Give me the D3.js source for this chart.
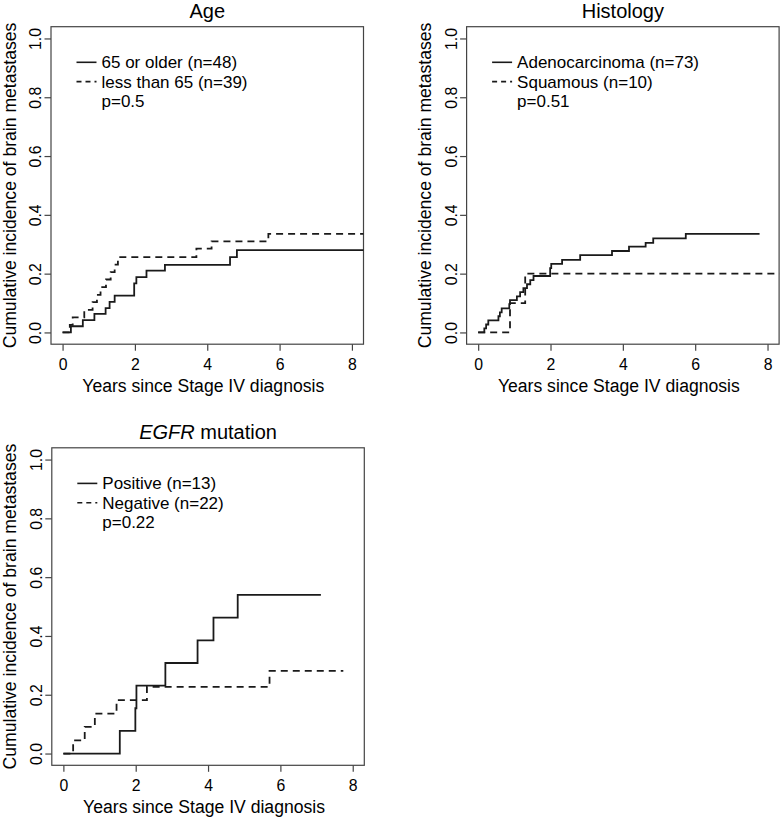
<!DOCTYPE html>
<html><head><meta charset="utf-8">
<script src="https://cdn.jsdelivr.net/npm/d3@7"></script>
<style>
body{margin:0;background:#fff}
svg{display:block}
text{font-family:"Liberation Sans",Arial,Helvetica,sans-serif;fill:#000}
</style>
</head><body><div id="chart"></div>
<script>
// ---------------- data ----------------
const xTicks = [0, 2, 4, 6, 8];
const yTicks = [0, 0.2, 0.4, 0.6, 0.8, 1.0];
const xLabel = "Years since Stage IV diagnosis";
const yLabel = "Cumulative incidence of brain metastases";

// Panel 1: Age
const ageTitle = "Age";
const ageLegend = ["65 or older (n=48)", "less than 65 (n=39)"];
const agePValue = "p=0.5";
const ageOlderTimes  = [0.23, 0.56, 0.88, 1.19, 1.30, 1.44, 1.98, 2.04, 2.32, 2.83, 4.63, 4.82];
const ageOlderValues = [0.021, 0.042, 0.063, 0.083, 0.104, 0.125, 0.167, 0.188, 0.210, 0.230, 0.256, 0.280];
const ageOlderEnd = 9;
const ageYoungerTimes  = [0.20, 0.28, 0.60, 0.83, 0.95, 1.05, 1.20, 1.33, 1.44, 1.53, 3.70, 4.12, 5.69];
const ageYoungerValues = [0.026, 0.051, 0.077, 0.103, 0.128, 0.154, 0.180, 0.205, 0.231, 0.256, 0.285, 0.310, 0.335];
const ageYoungerEnd = 9;

// Panel 2: Histology
const histTitle = "Histology";
const histLegend = ["Adenocarcinoma (n=73)", "Squamous (n=10)"];
const histPValue = "p=0.51";
const adenoTimes  = [0.17, 0.22, 0.28, 0.56, 0.60, 0.65, 0.86, 0.88, 1.07, 1.16, 1.25, 1.35, 1.44, 1.53, 1.99, 2.02, 2.32, 2.82, 3.70, 4.17, 4.63, 4.84, 5.74];
const adenoValues = [0.014, 0.027, 0.041, 0.055, 0.068, 0.082, 0.096, 0.110, 0.123, 0.137, 0.151, 0.164, 0.178, 0.192, 0.219, 0.233, 0.247, 0.263, 0.277, 0.292, 0.305, 0.320, 0.335];
const adenoEnd = 7.78;
const squamousTimes  = [0.88, 1.30];
const squamousValues = [0.10, 0.20];
const squamousEnd = 9;

// Panel 3: EGFR mutation
const egfrTitleItalic = "EGFR";
const egfrTitleRest = " mutation";
const egfrLegend = ["Positive (n=13)", "Negative (n=22)"];
const egfrPValue = "p=0.22";
const egfrPosTimes  = [1.56, 1.99, 2.02, 2.82, 3.71, 4.15, 4.82];
const egfrPosValues = [0.077, 0.154, 0.231, 0.308, 0.385, 0.462, 0.540];
const egfrPosEnd = 7.12;
const egfrNegTimes  = [0.27, 0.59, 0.87, 1.47, 2.31, 5.70];
const egfrNegValues = [0.045, 0.091, 0.136, 0.182, 0.227, 0.281];
const egfrNegEnd = 7.74;

// ---------------- layout ----------------
const W = 783, H = 822;
const boxW = 312.5, boxH = 317.5;
const xDomain = [-0.32, 8.32], yDomain = [-0.04, 1.04];
const fontTick = 15.8, fontLab = 17.6, fontLegend = 17, fontTitle = 20;
const ink = "#1a1a1a", frame = "#444";

function steps(times, values, end) {
  const pts = [[0, 0]];
  times.forEach((t, i) => pts.push([t, values[i]]));
  pts.push([end, values[values.length - 1]]);
  return pts;
}

const panels = [
  { left: 51, top: 26.7, title: [{t: ageTitle}], legend: ageLegend, p: agePValue,
    solid: steps(ageOlderTimes, ageOlderValues, ageOlderEnd),
    dashed: steps(ageYoungerTimes, ageYoungerValues, ageYoungerEnd) },
  { left: 466.6, top: 26.7, title: [{t: histTitle}], legend: histLegend, p: histPValue,
    solid: steps(adenoTimes, adenoValues, adenoEnd),
    dashed: steps(squamousTimes, squamousValues, squamousEnd) },
  { left: 51.8, top: 447.8, title: [{t: egfrTitleItalic, it: true}, {t: egfrTitleRest}], legend: egfrLegend, p: egfrPValue,
    solid: steps(egfrPosTimes, egfrPosValues, egfrPosEnd),
    dashed: steps(egfrNegTimes, egfrNegValues, egfrNegEnd) }
];

const svg = d3.select("#chart").append("svg").attr("width", W).attr("height", H);
svg.append("rect").attr("width", W).attr("height", H).attr("fill", "#fff");

panels.forEach((p, idx) => {
  const x = d3.scaleLinear().domain(xDomain).range([p.left, p.left + boxW]);
  const y = d3.scaleLinear().domain(yDomain).range([p.top + boxH, p.top]);
  const g = svg.append("g");
  const cx = p.left + boxW / 2, cy = p.top + boxH / 2;

  const clipId = "clip" + idx;
  svg.append("clipPath").attr("id", clipId).append("rect")
    .attr("x", p.left).attr("y", p.top).attr("width", boxW).attr("height", boxH);

  // axes
  const xa = g.append("g").attr("transform", `translate(0,${p.top + boxH})`)
    .call(d3.axisBottom(x).tickValues(xTicks).tickFormat(d3.format("d")).tickSize(6.5).tickPadding(8.3));
  xa.select(".domain").remove();
  xa.selectAll("line").attr("stroke", frame).attr("stroke-width", 1.2);
  xa.selectAll("text").attr("font-size", fontTick).attr("fill", "#000")
    .style("font-family", '"Liberation Sans",Arial,sans-serif');

  const ya = g.append("g").attr("transform", `translate(${p.left},0)`)
    .call(d3.axisLeft(y).tickValues(yTicks).tickFormat(d3.format(".1f")).tickSize(6.5));
  ya.select(".domain").remove();
  ya.selectAll("line").attr("stroke", frame).attr("stroke-width", 1.2);
  ya.selectAll("text").attr("x", null).attr("dy", null).attr("y", null)
    .attr("text-anchor", "middle").attr("transform", "translate(-10,0) rotate(-90)")
    .attr("font-size", fontTick).attr("fill", "#000")
    .style("font-family", '"Liberation Sans",Arial,sans-serif');

  // box
  g.append("rect").attr("x", p.left).attr("y", p.top).attr("width", boxW).attr("height", boxH)
    .attr("fill", "none").attr("stroke", frame).attr("stroke-width", 1.2);

  // curves
  const line = d3.line().x(d => x(d[0])).y(d => y(d[1])).curve(d3.curveStepAfter);
  const cg = g.append("g").attr("clip-path", `url(#${clipId})`);
  cg.append("path").datum(p.dashed).attr("d", line).attr("fill", "none")
    .attr("stroke", ink).attr("stroke-width", 1.8).attr("stroke-dasharray", "7,5");
  cg.append("path").datum(p.solid).attr("d", line).attr("fill", "none")
    .attr("stroke", ink).attr("stroke-width", 1.8);

  // title
  const tt = g.append("text").attr("x", cx).attr("y", p.top - 8.7)
    .attr("text-anchor", "middle").attr("font-size", fontTitle);
  p.title.forEach(s => tt.append("tspan").text(s.t).attr("font-style", s.it ? "italic" : "normal"));

  // axis labels
  g.append("text").attr("x", cx - 4).attr("y", p.top + boxH + 48)
    .attr("text-anchor", "middle").attr("font-size", fontLab).text(xLabel);
  g.append("text").attr("transform", `translate(${p.left - 35.5},${cy}) rotate(-90)`)
    .attr("text-anchor", "middle").attr("font-size", fontLab).text(yLabel);

  // legend
  const lx = p.left + 25.5, tx = p.left + 50.5, ly = p.top + 35.6, rowH = 19.3;
  p.legend.forEach((lab, i) => {
    g.append("line").attr("x1", lx).attr("x2", lx + 20).attr("y1", ly + i * rowH).attr("y2", ly + i * rowH)
      .attr("stroke", ink).attr("stroke-width", 1.6).attr("stroke-dasharray", i === 1 ? "5,4" : null);
    g.append("text").attr("x", tx).attr("y", ly + 6 + i * rowH).attr("font-size", fontLegend).text(lab);
  });
  g.append("text").attr("x", tx).attr("y", ly + 6 + 2 * rowH).attr("font-size", fontLegend).text(p.p);
});
</script>
</body></html>
